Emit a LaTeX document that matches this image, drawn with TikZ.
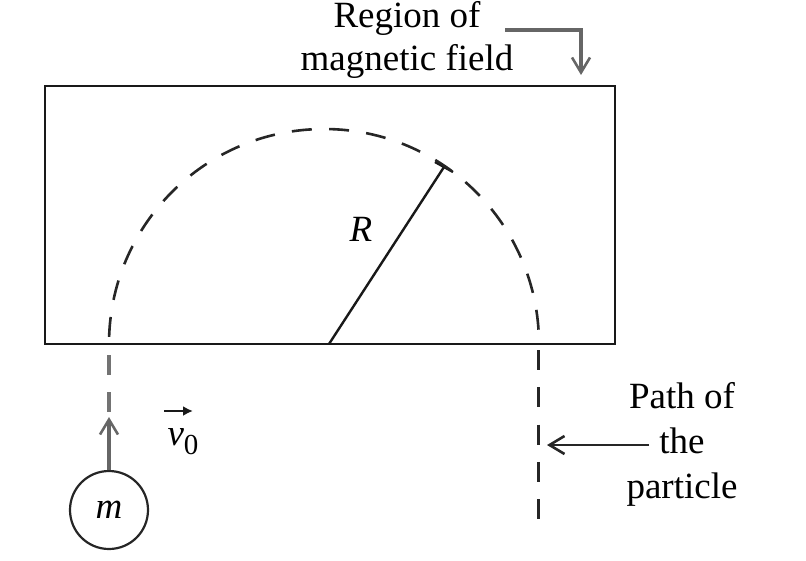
\documentclass[tikz,border=0pt]{standalone}
\usepackage{fontspec}
\setmainfont{Liberation Serif}
\usepackage{amsmath}
\usetikzlibrary{arrows.meta,positioning}

\begin{document}
\begin{tikzpicture}[x=1pt,y=-1pt,line width=2.2pt,
    every node/.style={font=\fontsize{37}{45}\selectfont,inner sep=0pt,align=center,text=black},
    dashline/.style={dash pattern=on 20pt off 17.3pt,color=black!85,line width=2.6pt},
    pointer/.style={-{Straight Barb[length=15pt,width=18pt,line width=2.6pt]},color=black!85,line width=2.2pt},
    greypointer/.style={pointer,color=black!60,line width=3.2pt}]
  \useasboundingbox (0,0) rectangle (806,560);
  \node[draw=black!90,minimum width=570pt,minimum height=258pt,anchor=north west] (field) at (43.5,85) {};
  \coordinate (centre) at (329,344);
  \coordinate (rim) at (444,167);
  \draw[line width=2.4pt,black!90] (centre) -- (rim);
  \draw[line width=2.4pt,black!90] (435,162) -- (453,172);
  \node (radius) at (361,229) {\textit{R}};
  \draw[dashline,dash phase=23pt] (539,344) arc[start angle=0,end angle=-180,radius=215];
  \node[draw=black!85,circle,minimum size=78pt] (mass) at (109,510) {\textit{m}};
  \coordinate (tip) at (109,417);
  \draw[greypointer] (mass) -- (tip);
  \coordinate (lefttop) at (109,355);
  \draw[dashline,color=black!55,line width=3.2pt] (lefttop) -- (109,414);
  \coordinate (righttop) at (538.6,350);
  \draw[dashline] (righttop) -- (538.6,520) coordinate (pathend);
  \node (speed) at (183,442) {\textit{v}\raisebox{-9pt}{\fontsize{29}{29}\selectfont 0}};
  \draw[-{Latex[length=10pt,width=10pt]},black!90] (164,411) coordinate (speedtail) -- (193,411) coordinate (speedtip);
  \node (pathlabel) at (682,444) {Path of\\the\\particle};
  \coordinate (pathhit) at (547,445);
  \draw[pointer] (649,445) coordinate (pathtail) -- (pathhit);
  \node (fieldlabel) at (407,39.5) {Region of\\[-2pt]magnetic field};
  \coordinate (fieldhit) at (581,75);
  \draw[greypointer] (505,30) coordinate (fieldtail) -- (581,30) -- (fieldhit);
\end{tikzpicture}
\end{document}
